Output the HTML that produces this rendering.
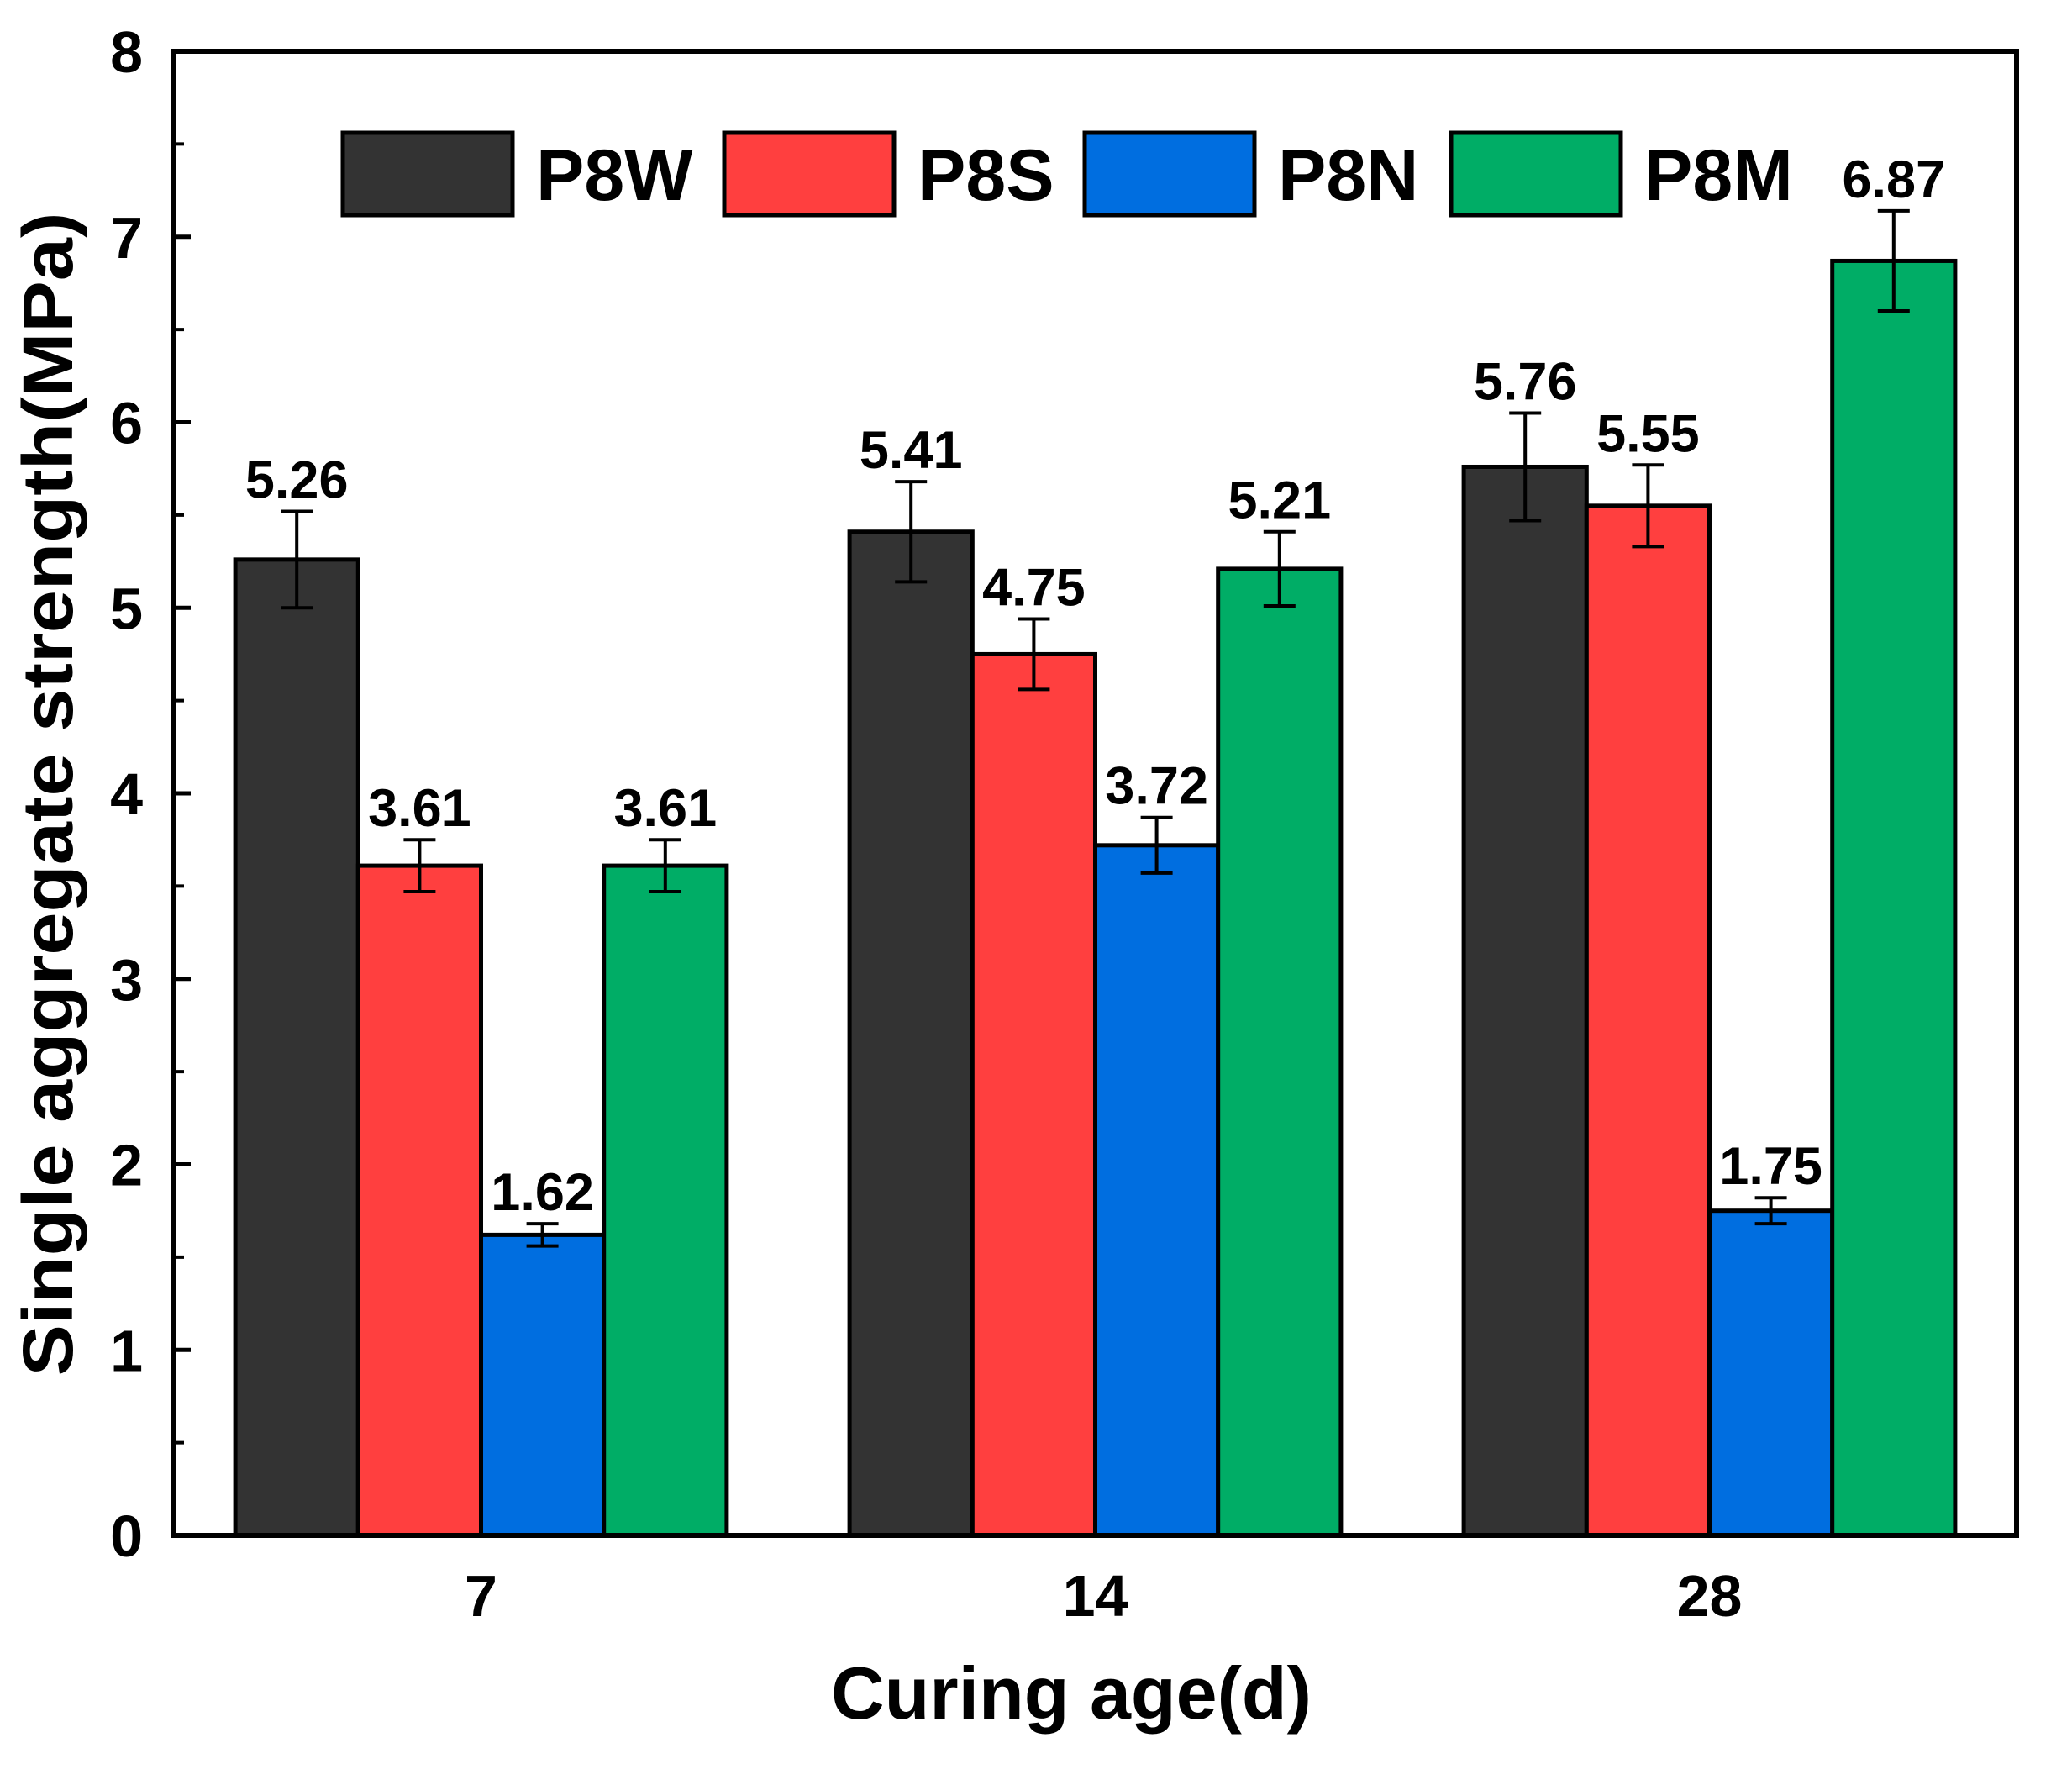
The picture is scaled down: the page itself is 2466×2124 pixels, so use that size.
<!DOCTYPE html>
<html><head><meta charset="utf-8"><style>
html,body{margin:0;padding:0;background:#fff;}
svg{display:block;font-family:"Liberation Sans",Arial,sans-serif;font-weight:bold;}
</style></head><body>
<svg id="chart" width="2466" height="2124" viewBox="0 0 2466 2124" xmlns="http://www.w3.org/2000/svg">
<rect x="0" y="0" width="2466" height="2124" fill="#fff"/>
<g id="bars"></g>
<g id="axes"></g>
<text x="1275" y="2045" font-size="88" text-anchor="middle">Curing age(d)</text>
<text transform="translate(86,945) rotate(-90)" font-size="84" text-anchor="middle" textLength="1385" lengthAdjust="spacingAndGlyphs">Single aggregate strength(MPa)</text>
<g id="legend"></g>
</svg>
<script>
const categories = ["7", "14", "28"];
const seriesNames = ["P8W", "P8S", "P8N", "P8M"];
const seriesColors = ["#333333", "#ff3f3f", "#006ee0", "#00ad66"];
const valuesP8W = [5.26, 5.41, 5.76];
const valuesP8S = [3.61, 4.75, 5.55];
const valuesP8N = [1.62, 3.72, 1.75];
const valuesP8M = [3.61, 5.21, 6.87];
const errP8W = [0.26, 0.27, 0.29];
const errP8S = [0.14, 0.19, 0.22];
const errP8N = [0.06, 0.15, 0.07];
const errP8M = [0.14, 0.20, 0.27];
const yTicks = [0, 1, 2, 3, 4, 5, 6, 7, 8];

const series = [valuesP8W, valuesP8S, valuesP8N, valuesP8M];
const errs = [errP8W, errP8S, errP8N, errP8M];
const L = 207, R = 2400, T = 61, B = 1827;
const yMin = 0, yMax = 8;
const NS = "http://www.w3.org/2000/svg";
function y(v){ return B - (v - yMin) / (yMax - yMin) * (B - T); }
const band = (R - L) / categories.length;
function xc(i){ return L + band * (i + 0.5); }
const barW = band * 0.2;
function mk(tag, attrs, parent){ const e = document.createElementNS(NS, tag); for (const k in attrs) e.setAttribute(k, attrs[k]); parent.appendChild(e); return e; }

const gb = document.getElementById('bars');
series.forEach((vals, s) => {
  vals.forEach((v, i) => {
    const x0 = xc(i) - 2 * barW + s * barW;
    const r = mk('rect', {x: x0, y: y(v), width: barW, height: B - y(v), fill: seriesColors[s], stroke: '#000', 'stroke-width': 5}, gb);
    
    
    const cx = x0 + barW / 2, e = errs[s][i];
    const eb = mk('path', {d: `M${cx},${y(v+e)}V${y(v-e)}M${cx-19},${y(v+e)}H${cx+19}M${cx-19},${y(v-e)}H${cx+19}`, stroke: '#000', 'stroke-width': 4, fill: 'none'}, gb);
    
    
    const t = mk('text', {x: cx, y: y(v + e) - 16, 'font-size': 63, 'text-anchor': 'middle'}, gb);
    t.textContent = v.toFixed(2);
    
    
  });
});

const ga = document.getElementById('axes');
const frame = mk('rect', {x: L, y: T, width: R - L, height: B - T, fill: 'none', stroke: '#000', 'stroke-width': 6}, ga);


yTicks.forEach((v, k) => {
  const tk = mk('line', {x1: L, x2: L + 20, y1: y(v), y2: y(v), stroke: '#000', 'stroke-width': 5}, ga);
  
  
  if (k < yTicks.length - 1) {
    const mv = (v + yTicks[k + 1]) / 2;
    const mt = mk('line', {x1: L, x2: L + 12, y1: y(mv), y2: y(mv), stroke: '#000', 'stroke-width': 4}, ga);
    
    
  }
  const lb = mk('text', {x: 170, y: y(v) + 25, 'font-size': 70, 'text-anchor': 'end'}, ga);
  lb.textContent = v;
  
  
});
categories.forEach((c, i) => {
  const lb = mk('text', {x: xc(i), y: 1923, 'font-size': 70, 'text-anchor': 'middle'}, ga);
  lb.textContent = c;
  
  
});

const gl = document.getElementById('legend');
const legBoxX = [408, 862, 1291, 1727];
seriesNames.forEach((n, s) => {
  const bx = mk('rect', {x: legBoxX[s], y: 158, width: 202, height: 98, fill: seriesColors[s], stroke: '#000', 'stroke-width': 5}, gl);
  
  
  const t = mk('text', {x: legBoxX[s] + 230, y: 238, 'font-size': 86}, gl);
  t.textContent = n;
  
  
});
</script>
</body></html>
